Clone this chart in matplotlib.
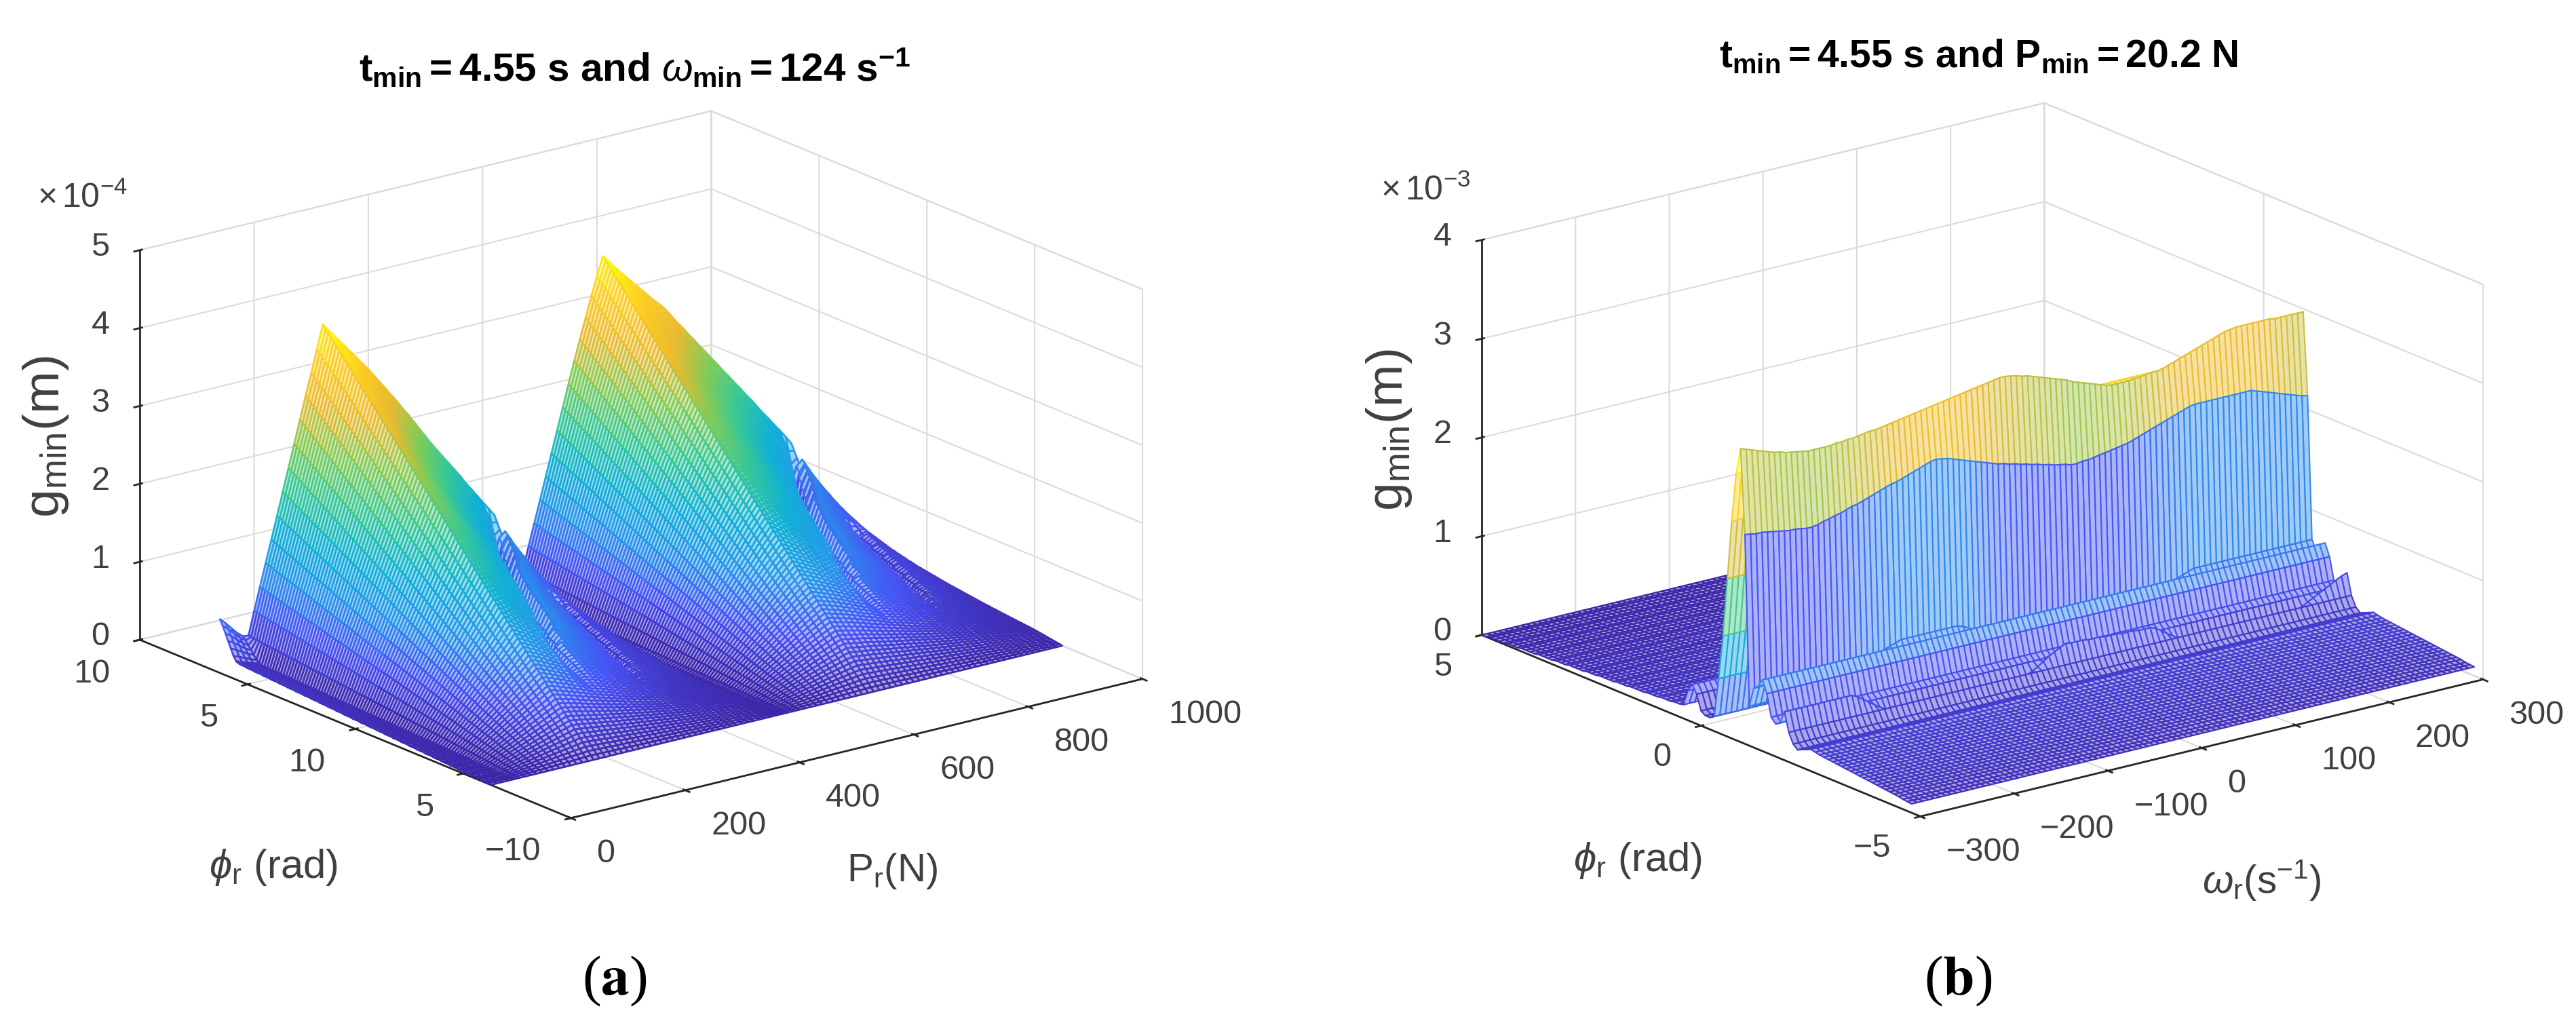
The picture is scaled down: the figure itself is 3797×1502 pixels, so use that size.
import numpy as np
import matplotlib
matplotlib.use("Agg")
import matplotlib.pyplot as plt
from matplotlib.colors import LinearSegmentedColormap
from mpl_toolkits.mplot3d import proj3d

W, H = 3797, 1502
plt.rcParams['font.family'] = ['Liberation Sans', 'DejaVu Sans']
plt.rcParams['mathtext.fontset'] = 'custom'
plt.rcParams['mathtext.rm'] = 'Liberation Sans'
plt.rcParams['mathtext.it'] = 'Liberation Sans:italic'
plt.rcParams['mathtext.bf'] = 'Liberation Sans:bold'
plt.rcParams['mathtext.fallback'] = 'stixsans'

# ---------- panel (a): g_min (x 1e-4 m) read along P_r and phi_r ----------
a_P_start, a_P_end, a_P_step = 0, 1000, 10
a_f_P = [0.69,0.62,0.54,0.46,0.40,0.39,0.69,0.98,1.27,1.55,
 1.84,2.13,2.42,2.71,3.00,3.29,3.57,3.86,4.15,4.06,
 3.97,3.88,3.79,3.70,3.61,3.52,3.43,3.33,3.23,3.13,
 3.03,2.93,2.82,2.72,2.61,2.50,2.39,2.28,2.18,2.08,
 1.98,1.88,1.78,1.67,1.57,1.47,1.37,1.27,1.17,0.75,
 0.28,0.08,0.14,0.38,0.66,0.94,1.22,1.50,1.78,2.06,
 2.34,2.62,2.90,3.16,3.42,3.68,3.92,4.15,4.07,3.98,
 3.90,3.82,3.74,3.66,3.58,3.50,3.42,3.35,3.27,3.17,
 3.07,2.98,2.88,2.79,2.69,2.60,2.50,2.41,2.31,2.22,
 2.12,2.03,1.93,1.84,1.74,1.64,1.55,1.45,1.36,1.26,1.16]
a_mix_P = [0,0,0,0,0,0,0,0,0,0,
 0,0,0,0,0,0,0,0,0,0.02,
 0.04,0.07,0.10,0.14,0.17,0.21,0.24,0.28,0.31,0.34,
 0.38,0.41,0.45,0.48,0.52,0.55,0.59,0.62,0.66,0.69,
 0.72,0.76,0.79,0.83,0.86,0.90,0.93,0.97,1,1,
 1,0.6,0.2,0,0,0,0,0,0,0,
 0,0,0,0,0,0,0,0,0.02,0.03,
 0.05,0.07,0.10,0.13,0.17,0.20,0.23,0.27,0.30,0.33,
 0.37,0.40,0.43,0.47,0.50,0.53,0.57,0.60,0.63,0.67,
 0.70,0.73,0.77,0.80,0.83,0.87,0.90,0.93,0.97,1,1]
a_edge_P = [1,1,1,1,1] + [0] * 96
a_phi_top, a_phi_bottom = 6.28, -6.28
a_g_rise = [1.00,0.99,0.98,0.97,0.96,0.95,0.94,0.93,0.92,0.91,
 0.90,0.89,0.88,0.87,0.86,0.85,0.84,0.83,0.82,0.81,
 0.80,0.79,0.78,0.77,0.76,0.75,0.74,0.73,0.72,0.71,
 0.70,0.69,0.68,0.67,0.66,0.65,0.64,0.63,0.62,0.61,
 0.60,0.59,0.58,0.57,0.56,0.55,0.54,0.53,0.52,0.51,
 0.50,0.49,0.48,0.47,0.46,0.45,0.44,0.43,0.42,0.41,
 0.40,0.39,0.38,0.37,0.36,0.35,0.34,0.33,0.32,0.31,
 0.30,0.29,0.28,0.27,0.26,0.25,0.24,0.23,0.22,0.21,
 0.20,0.19,0.18,0.17,0.16,0.15,0.14,0.13,0.12,0.11,
 0.10,0.09,0.08,0.07,0.06,0.05,0.04,0.03,0.02,0.01,0.00]
a_g_fall = [1.0,.965,.93,.90,.87,.84,.81,.78,.75,.725,
 .70,.675,.65,.63,.61,.585,.565,.545,.525,.51,
 .49,.475,.46,.445,.43,.415,.40,.39,.375,.365,
 .355,.345,.335,.325,.315,.305,.295,.285,.28,.27,
 .265,.255,.25,.24,.235,.23,.22,.215,.21,.205,
 .20,.195,.19,.185,.18,.175,.17,.165,.16,.155,
 .152,.148,.144,.14,.136,.132,.128,.124,.12,.116,
 .112,.108,.105,.102,.098,.095,.092,.088,.085,.082,
 .079,.076,.073,.07,.067,.064,.061,.058,.055,.052,
 .048,.044,.04,.035,.03,.025,.02,.015,.01,.005,0.0]
a_g_edge = [1.0,.90,.78,.66,.54,.42,.34,.32,.31,.31,
 .30,.30,.30,.29,.29,.29,.28,.28,.28,.27,
 .27,.27,.26,.26,.26,.25,.25,.25,.24,.24,
 .24,.23,.23,.23,.22,.22,.22,.21,.21,.21,
 .20,.20,.20,.19,.19,.19,.18,.18,.18,.17,
 .17,.17,.16,.16,.16,.15,.15,.15,.14,.14,
 .14,.13,.13,.13,.12,.12,.12,.11,.11,.11,
 .10,.10,.10,.09,.09,.09,.08,.08,.08,.07,
 .07,.07,.06,.06,.06,.05,.05,.05,.04,.04,
 .04,.03,.03,.03,.02,.02,.02,.01,.01,.01,.0]
# folds running down the falling side of each tooth (columns back from the tooth's end, depth)
a_tooth_end_cols = [48, 100]
a_fold1_back = [1,1,1,1,2,2,2,3,3,3, 4,4,4,5,5,5,6,6,7,7,
 7,8,8,9,9,10,10,10,11,11, 11,12,12,12,13,13,13,14,14,14,
 15,15,15,16,16,16,16,17,17,17, 17,18,18,18,18,19,19,19,19,20,
 20,20,21,21,21,21,21,22,22,22, 22,22,22,22,22,22,22,22,22,22,
 22,22,22,22,22,22,22,22,22,22, 22,22,22,22,22,22,22,22,22,22,22]
a_fold1_depth = [0,.1,.2,.3,.4,.5,.55,.6,.62,.65, .68,.7,.72,.75,.75,.75,.75,.75,.75,.75,
 .75,.75,.75,.75,.75,.75,.75,.75,.75,.75, .75,.75,.75,.75,.75,.75,.75,.75,.75,.75,
 .75,.75,.75,.75,.72,.7,.7,.68,.66,.65, .64,.62,.6,.58,.56,.54,.52,.5,.48,.46,
 .44,.42,.4,.38,.36,.34,.32,.3,.28,.26, .24,.22,.2,.18,.16,.14,.12,.1,.08,.06,
 .05,.04,.03,.02,.01,0,0,0,0,0, 0,0,0,0,0,0,0,0,0,0,0]
a_fold2_back = [2]*26 + [2,2,2,2,3,3,3,3,3,3, 4,4,4,4,4,4,5,5,5,5,
 5,5,6,6,6,6,6,6,7,7, 7,7,7,7,8,8,8,8,8,8, 9,9,9,9,9,9,10,10,10,10,
 10,10,10,10,10,10,10,10,10,10, 10,10,10,10,10,10,10,10,10,10, 10,10,10,10,10]
a_fold2_depth = [0]*26 + [.1,.2,.3,.4,.45,.5,.5,.5,.5,.5, .5,.5,.5,.5,.5,.5,.5,.5,.5,.5,
 .5,.5,.5,.5,.5,.5,.5,.5,.5,.5, .5,.5,.5,.45,.45,.4,.4,.35,.35,.3, .3,.25,.25,.2,.2,.15,.15,.1,.1,.05,
 .05,0,0,0,0,0,0,0,0,0, 0,0,0,0,0,0,0,0,0,0, 0,0,0,0,0]
a_fold_kernel = [0.35, 1.0, 0.35]

# ---------- panel (b): g_min (x 1e-3 m) read along omega_r and phi_r ----------
b_omega_start, b_omega_end, b_omega_step = -300, 300, 6
b_phi_start, b_phi_step = 5.0, -0.1
b_crest_top = [2.97,2.95,2.93,2.91,2.89,2.87,2.85,2.84,2.82,2.81,
 2.80,2.79,2.78,2.78,2.78,2.78,2.78,2.79,2.79,2.80,
 2.80,2.81,2.82,2.83,2.83,2.84,2.85,2.86,2.87,2.88,
 2.89,2.90,2.91,2.92,2.93,2.94,2.95,2.96,2.97,2.98,
 2.99,3.00,3.01,3.02,3.03,3.04,3.05,3.05,3.04,3.03,
 3.01,3.00,2.98,2.96,2.94,2.92,2.90,2.88,2.86,2.83,
 2.81,2.79,2.77,2.75,2.73,2.71,2.70,2.70,2.70,2.70,
 2.71,2.71,2.72,2.73,2.73,2.74,2.76,2.78,2.80,2.82,
 2.84,2.86,2.88,2.90,2.92,2.94,2.96,2.97,2.98,2.98,
 2.98,2.98,2.98,2.98,2.98,2.97,2.97,2.97,2.97,2.97,2.97]
b_crest_front = [2.12,2.11,2.10,2.10,2.09,2.08,2.07,2.06,2.05,2.05,
 2.04,2.03,2.03,2.04,2.06,2.07,2.09,2.10,2.12,2.14,
 2.15,2.17,2.19,2.21,2.23,2.25,2.27,2.28,2.30,2.32,
 2.34,2.36,2.38,2.40,2.41,2.40,2.39,2.37,2.35,2.33,
 2.31,2.29,2.27,2.25,2.23,2.21,2.20,2.18,2.17,2.15,
 2.14,2.12,2.11,2.09,2.08,2.06,2.05,2.04,2.02,2.02,
 2.03,2.03,2.04,2.05,2.06,2.07,2.08,2.09,2.10,2.12,
 2.14,2.16,2.18,2.20,2.22,2.24,2.26,2.28,2.30,2.32,
 2.33,2.33,2.33,2.33,2.33,2.33,2.33,2.33,2.33,2.33,
 2.33,2.31,2.29,2.27,2.25,2.23,2.21,2.19,2.17,2.15,2.14]
b_wall_foot = [.40,.40,.40,.40,.40,.40,.40,.40,.40,.40,
 .40,.40,.40,.42,.44,.46,.48,.50,.52,.54,
 .56,.58,.60,.62,.64,.66,.68,.70,.70,.70,
 .70,.70,.70,.70,.70,.70,.70,.70,.68,.65,
 .62,.58,.55,.52,.50,.48,.46,.45,.44,.43,
 .42,.42,.42,.42,.42,.42,.42,.42,.42,.42,
 .42,.42,.42,.42,.42,.42,.44,.46,.48,.50,
 .52,.54,.56,.58,.60,.62,.64,.66,.68,.70,
 .70,.70,.70,.70,.70,.70,.70,.70,.70,.70,
 .70,.70,.70,.70,.70,.70,.70,.70,.70,.70,.70]
b_crest_wavy = [.49,.49,.49,.49,.49,.49,.49,.49,.49,.49,
 .49,.49,.49,.46,.42,.38,.34,.30,.27,.24,
 .21,.22,.22,.22,.22,.22,.23,.23,.23,.23,
 .23,.24,.24,.24,.24,.24,.25,.25,.25,.25,
 .25,.26,.26,.26,.29,.32,.36,.40,.43,.46,
 .49,.48,.48,.48,.47,.47,.47,.46,.46,.46,
 .45,.45,.45,.44,.44,.44,.42,.38,.34,.30,
 .26,.23,.21,.22,.22,.22,.22,.22,.22,.22,
 .22,.22,.22,.22,.22,.22,.22,.22,.22,.22,
 .22,.25,.28,.31,.34,.37,.40,.43,.46,.49,.51]
b_plain_phi = [0.00,0.00,0.01,0.01,0.01,0.01,0.02,0.02,0.02,0.03,
 0.03,0.03,0.03,0.04,0.04,0.04,0.04,0.05,0.05,0.05,
 0.06,0.06,0.06,0.06,0.07,0.07,0.07,0.08,0.08,0.08,
 0.08,0.09,0.09,0.09,0.10,0.10,0.10,0.10,0.11,0.11,
 0.11,0.12,0.12,0.12,0.13,0.13,0.14,0.30,0.38,0.30,
 0.15,0.12,0.12,0.15,0.55,1.00,1.60,2.20,2.70,0.00,
 0.00,0.00,0.60,0.64,0.72,0.60,0.38,0.33,0.36,0.00,
 0.30,0.20,0.16,0.18,0.20,0.22,0.21,0.20,0.195,0.19,
 0.185,0.18,0.175,0.17,0.165,0.16,0.155,0.15,0.145,0.14,
 0.135,0.13,0.125,0.12,0.115,0.11,0.10,0.095,0.09]
b_top_row, b_front_row, b_foot_row, b_wavy_row = 59, 60, 61, 69

# ---------- ticks and text ----------
a_x_ticks = [0, 200, 400, 600, 800, 1000]
a_x_labels = ['0', '200', '400', '600', '800', '1000']
a_y_ticks = [-10, -5, 0, 5, 10]
a_y_labels = ['\u221210', '5', '10', '5', '10']
a_z_ticks = [0, 1, 2, 3, 4, 5]
b_x_ticks = [-300, -200, -100, 0, 100, 200, 300]
b_x_labels = ['\u2212300', '\u2212200', '\u2212100', '0', '100', '200', '300']
b_y_ticks = [-5, 0, 5]
b_y_labels = ['\u22125', '0', '5']
b_z_ticks = [0, 1, 2, 3, 4]

parula_stops = [(0.2422,0.1504,0.6603),(0.2810,0.3228,0.9579),(0.1540,0.5902,0.9218),
                (0.0689,0.6948,0.8394),(0.2161,0.7843,0.5923),(0.5044,0.7993,0.3480),
                (0.9184,0.7308,0.1890),(0.9892,0.8040,0.1400),(0.9763,0.9831,0.0538)]
parula = LinearSegmentedColormap.from_list('parula', parula_stops)

DARK = (0.15, 0.15, 0.15)
GRID = (0.86, 0.86, 0.86)
TXT = (0.25, 0.25, 0.25)
TICK_FS = 35


def fx(x):
    return x / W


def fy(y):
    return 1 - y / H


def corner_px(ax, x, y, z):
    X, Y, _ = proj3d.proj_transform(x, y, z, ax.get_proj())
    return ax.transData.transform((X, Y))


def make_axes(left, right, xlim, ylim, zlim, aspect):
    """left/right: target pixels of the left and right floor corners."""
    ax = fig.add_axes([0.1, 0.1, 1000 / W, 1000 / H], projection='3d', proj_type='ortho',
                      computed_zorder=False)
    ax.set_xlim(*xlim); ax.set_ylim(*ylim); ax.set_zlim(*zlim)
    ax.set_box_aspect(aspect)
    ax.view_init(elev=18.5, azim=-127.5)
    ax.patch.set_alpha(0)
    for _ in range(3):
        fig.canvas.draw()
        p0 = corner_px(ax, xlim[0], ylim[1], zlim[0])
        p1 = corner_px(ax, xlim[1], ylim[0], zlim[0])
        pos = ax.get_position()
        wpx, hpx = pos.width * W, pos.height * H
        s = (right[0] - left[0]) / (p1[0] - p0[0])
        x0, y0 = pos.x0 * W, pos.y0 * H
        nx0 = x0 + (left[0] - (x0 + (p0[0] - x0) * s))
        ny0 = y0 + ((H - left[1]) - (y0 + (p0[1] - y0) * s))
        ax.set_position([nx0 / W, ny0 / H, wpx * s / W, hpx * s / H])
    return ax


def style_axes(ax, xt, xl, yt, yl, zt, xlim, ylim, y_dy):
    ax.set_xticks(xt); ax.set_xticklabels([''] * len(xt))
    ax.set_yticks(yt); ax.set_yticklabels([''] * len(yt))
    ax.set_zticks(zt); ax.set_zticklabels([''] * len(zt))
    ax.tick_params(axis='both', color=DARK)
    for a in (ax.xaxis, ax.yaxis, ax.zaxis):
        a.set_pane_color((1, 1, 1, 1))
        a.pane.set_edgecolor(GRID)
        a.pane.set_linewidth(1.5)
        a.line.set_color(DARK)
        a.line.set_linewidth(2.0)
        a._axinfo['grid'].update(color=GRID, linewidth=1.5)
        a._axinfo['tick'].update(inward_factor=0.12, outward_factor=0.05, linewidth={True: 2.0, False: 1.0})
    fig.canvas.draw()
    for v, s in zip(xt, xl):
        p = corner_px(ax, v, ylim[0], 0)
        fig.text(p[0] / W + 38 / W, (p[1] - 53) / H, s, ha='left', va='center', fontsize=TICK_FS, color=TXT)
    for v, s in zip(yt, yl):
        p = corner_px(ax, xlim[0], v, 0)
        fig.text((p[0] - 44) / W, (p[1] - y_dy) / H, s, ha='right', va='center', fontsize=TICK_FS, color=TXT)
    for v in zt:
        p = corner_px(ax, xlim[0], ylim[1], v)
        fig.text((p[0] - 58) / W, (p[1] + 4) / H, str(v), ha='center', va='center', fontsize=TICK_FS, color=TXT)


def mesh(ax, X, Y, Z, C, vmax, lw, tint=0.0):
    """One collection per row, back to front: exact painter order for a height field."""
    for i in range(Z.shape[0] - 1):
        s = ax.plot_surface(X[i:i + 2], Y[i:i + 2], Z[i:i + 2], rstride=1, cstride=1,
                            color='white', shade=False, linewidth=lw, antialiased=True, zorder=10 + i)
        edges = parula(np.clip(C[i] / vmax, 0, 1))
        s.set_edgecolor(edges)
        if tint > 0:
            faces = edges.copy()
            faces[:, :3] = tint * edges[:, :3] + (1 - tint)
            s.set_facecolor(faces)


fig = plt.figure(figsize=(W / 100, H / 100), dpi=100, facecolor='white')

# ---- (a)
ax1 = make_axes((206, 943), (1684, 1006), (0, 1000), (-10, 10), (0, 5), (1.017, 1.0, 0.58))
style_axes(ax1, a_x_ticks, a_x_labels, a_y_ticks, a_y_labels, a_z_ticks, (0, 1000), (-10, 10), 50)
P = np.arange(a_P_start, a_P_end + a_P_step, a_P_step, dtype=float)
Phi = np.linspace(a_phi_top, a_phi_bottom, len(a_g_rise))
PP, PH = np.meshgrid(P, Phi)
mix = np.array(a_mix_P)[None, :]
edge = np.array(a_edge_P)[None, :]
shape = (1 - mix - edge) * np.array(a_g_rise)[:, None] + mix * np.array(a_g_fall)[:, None] \
    + edge * np.array(a_g_edge)[:, None]
Za = np.array(a_f_P)[None, :] * shape
for end in a_tooth_end_cols:
    for back, depth in ((a_fold1_back, a_fold1_depth), (a_fold2_back, a_fold2_depth)):
        for i in range(Za.shape[0]):
            for k, w in zip((-1, 0, 1), a_fold_kernel):
                j = end - back[i] + k
                if 0 <= j < Za.shape[1]:
                    Za[i, j] *= 1 - depth[i] * w
mesh(ax1, PP, PH, Za, Za[:-1, :-1], Za.max(), 1.9, tint=0.45)

# ---- (b)
ax2 = make_axes((2184, 936), (3660, 1001), (-300, 300), (-5, 5), (0, 4), (0.984, 1.0, 0.578))
style_axes(ax2, b_x_ticks, b_x_labels, b_y_ticks, b_y_labels, b_z_ticks, (-300, 300), (-5, 5), 47)
Om = np.arange(b_omega_start, b_omega_end + b_omega_step, b_omega_step, dtype=float)
Ph2 = b_phi_start + b_phi_step * np.arange(len(b_plain_phi))
OO, PH2 = np.meshgrid(Om, Ph2)
Zb = np.array(b_plain_phi)[:, None] * np.ones((1, len(Om)))
Zb[b_top_row] = b_crest_top
Zb[b_front_row] = b_crest_front
Zb[b_foot_row] = b_wall_foot
Zb[b_wavy_row] = b_crest_wavy
mesh(ax2, OO, PH2, Zb, Zb[1:, :-1], 3.05, 1.5, tint=0.45)

# ---- text
fig.text(fx(936), fy(100), r"$\mathbf{t_{min}{=}4.55\ s\ and\ }\omega_{\mathbf{min}}\mathbf{{=}124\ s^{-1}}$",
         ha='center', va='center', fontsize=42, color='black')
fig.text(fx(2916), fy(84), r"$\mathbf{t_{min}{=}4.55\ s\ and\ P_{min}{=}20.2\ N}$",
         ha='center', va='center', fontsize=41, color='black')
fig.text(fx(122), fy(292), r"$\times\,10^{-4}$", ha='center', va='center', fontsize=36, color=TXT)
fig.text(fx(2101), fy(281), r"$\times\,10^{-3}$", ha='center', va='center', fontsize=36, color=TXT)
fig.text(fx(67), fy(644), r"$\mathrm{g_{min}(m)}$", rotation=90, ha='center', va='center', fontsize=54, color=TXT)
fig.text(fx(2048), fy(634), r"$\mathrm{g_{min}(m)}$", rotation=90, ha='center', va='center', fontsize=54, color=TXT)
fig.text(fx(403), fy(1279), r"$\phi_\mathrm{r}\ \mathrm{(rad)}$", ha='center', va='center', fontsize=43, color=TXT)
fig.text(fx(2414), fy(1269), r"$\phi_\mathrm{r}\ \mathrm{(rad)}$", ha='center', va='center', fontsize=43, color=TXT)
fig.text(fx(1315), fy(1284), r"$\mathrm{P_{r}(N)}$", ha='center', va='center', fontsize=42, color=TXT)
fig.text(fx(3334), fy(1298), r"$\omega_\mathrm{r}\mathrm{(s^{-1})}$", ha='center', va='center', fontsize=42, color=TXT)
fig.text(fx(906), fy(1446), r"($\mathbf{a}$)", family='Liberation Serif', ha='center', va='center', fontsize=60, color='black', math_fontfamily='stix')
fig.text(fx(2886), fy(1446), r"($\mathbf{b}$)", family='Liberation Serif', ha='center', va='center', fontsize=60, color='black', math_fontfamily='stix')

fig.savefig('out.png', dpi=100, facecolor='white')
